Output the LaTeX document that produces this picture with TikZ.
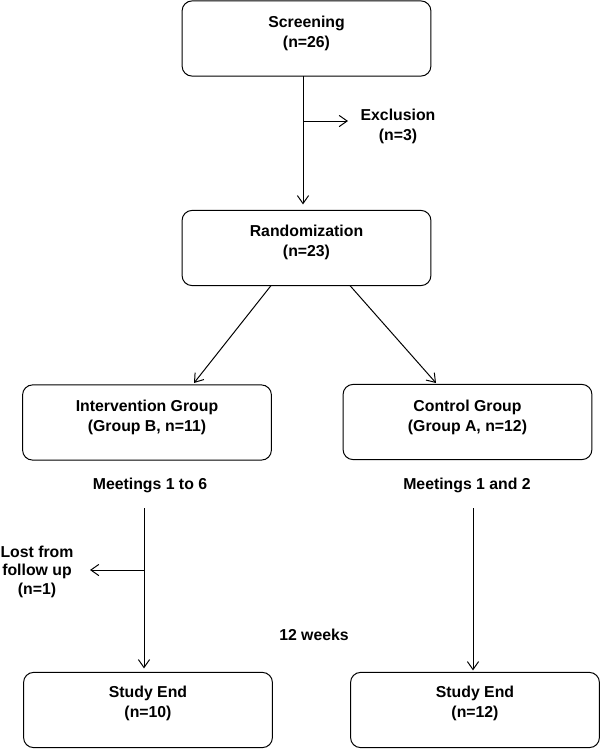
\documentclass[tikz,border=0pt]{standalone}
\usepackage{fontspec}
\setmainfont{Liberation Sans}
\usetikzlibrary{arrows.meta,positioning,calc}

\tikzset{
  box/.style={draw, line width=0.7pt, rounded corners=0.25cm, minimum width=6.22cm, minimum height=1.88cm, inner sep=0pt, outer sep=0pt},
  txt/.style={align=center, font=\bfseries\fontsize{11.25}{14.2}\selectfont, inner sep=0pt},
  flow/.style={line width=0.7pt, -{Straight Barb[length=2mm,width=2.8mm]}}
}

\begin{document}
\begin{tikzpicture}
    \useasboundingbox (0,0) rectangle (15,-18.725);

    % Screening
    \node[box] (screen) at (7.6625,-0.9625) {};
    \node[txt] (screen-t) at (7.6625,-0.825) {Screening\\(n=26)};

    % Exclusion
    \coordinate (excl-in) at (7.575,-3.025);
    \node[txt] (excl) at (9.95,-3.15) {Exclusion\\(n=3)};
    \coordinate (excl-end) at (8.7,-3.025);

    % Randomization
    \node[box] (rand) at (7.6625,-6.2) {};
    \node[txt] (rand-t) at (7.6625,-6.0625) {Randomization\\(n=23)};

    % Groups
    \node[box] (interv) at (3.675,-10.5625) {};
    \node[txt] (interv-t) at (3.675,-10.425) {Intervention Group\\(Group B, n=11)};
    \node[box] (ctrl) at (11.6875,-10.55) {};
    \node[txt] (ctrl-t) at (11.6875,-10.425) {Control Group\\(Group A, n=12)};

    % Meetings
    \node[txt] (meetB) at (3.75,-12.125) {Meetings 1 to 6};
    \node[txt] (meetA) at (11.675,-12.125) {Meetings 1 and 2};
    \node[txt] (weeks) at (7.85,-15.875) {12 weeks};

    % Lost from follow up
    \coordinate (lost-in) at (3.6,-14.25);
    \node[txt, font=\bfseries\fontsize{11.25}{13.1}\selectfont] (lost) at (0.925,-14.2875) {Lost from\\follow up\\(n=1)};
    \coordinate (lost-end) at (2.25,-14.25);

    % Study end
    \node[box] (endB) at (3.7,-17.75) {};
    \node[txt] (endB-t) at (3.7,-17.575) {Study End\\(n=10)};
    \node[box] (endA) at (11.875,-17.75) {};
    \node[txt] (endA-t) at (11.875,-17.575) {Study End\\(n=12)};

    % Arrows
    \draw[flow] (screen.south -| excl-in) -- ([yshift=0.15cm]rand.north -| excl-in);
    \draw[flow] (excl-in) -- (excl-end);
    \draw[flow] ($(rand.south)+(-0.8875,0)$) -- (4.85,-9.575);
    \draw[flow] ($(rand.south)+(1.0875,0)$) -- (10.9,-9.575);
    \draw[flow] (3.6,-12.7) -- ([yshift=0.1cm]endB.north -| lost-in);
    \draw[flow] (lost-in) -- (lost-end);
    \draw[flow] (11.825,-12.7) -- ([yshift=0.05cm]endA.north -| 11.825,0);
\end{tikzpicture}
\end{document}
